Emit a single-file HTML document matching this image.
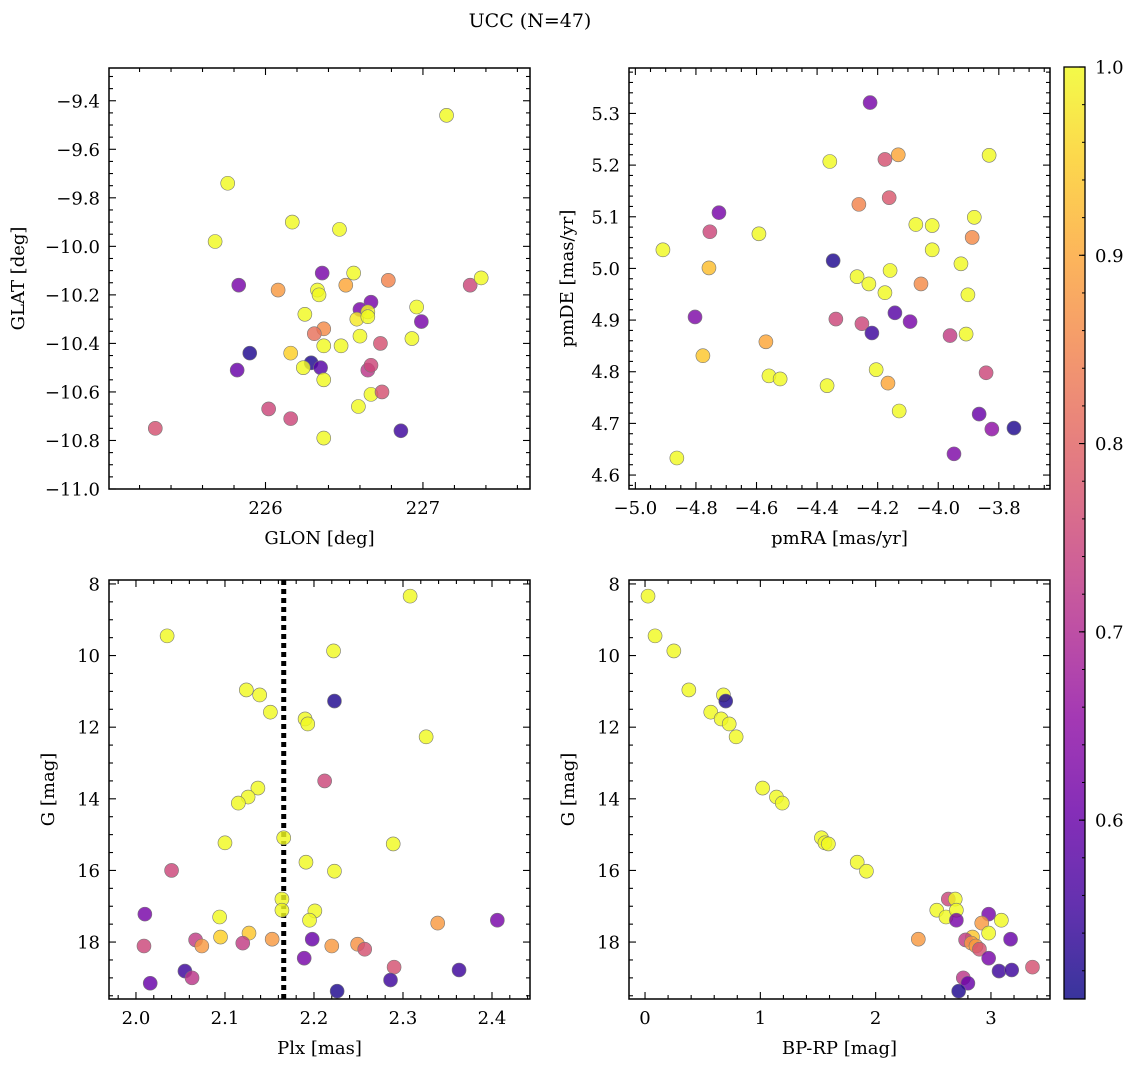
<!DOCTYPE html>
<html><head><meta charset="utf-8">
<style>
body{margin:0;background:#fff;}
svg text{font-family:"DejaVu Serif","Liberation Serif",serif;fill:#000;}
</style></head>
<body>
<svg id="fig" width="1136" height="1067" xmlns="http://www.w3.org/2000/svg">
<text x="530" y="27" font-size="19" text-anchor="middle">UCC (N=47)</text>
</svg>
<script>
// ---- Panel 1: GLON vs GLAT ----
const glon=[227.15,225.76,225.68,226.17,226.47,225.83,226.08,226.36,226.56,226.51,226.33,226.34,226.78,227.30,227.37,226.67,226.60,226.96,226.58,226.65,226.65,226.25,226.99,226.37,226.31,226.60,226.37,226.48,226.93,225.90,226.16,226.73,226.29,226.24,226.35,226.65,226.67,225.82,226.37,226.67,226.74,226.59,226.02,226.16,225.30,226.37,226.86];
const glat=[-9.46,-9.74,-9.98,-9.90,-9.93,-10.16,-10.18,-10.11,-10.11,-10.16,-10.18,-10.20,-10.14,-10.16,-10.13,-10.23,-10.26,-10.25,-10.30,-10.27,-10.29,-10.28,-10.31,-10.34,-10.36,-10.37,-10.41,-10.41,-10.38,-10.44,-10.44,-10.40,-10.48,-10.50,-10.50,-10.51,-10.49,-10.51,-10.55,-10.61,-10.60,-10.66,-10.67,-10.71,-10.75,-10.79,-10.76];
const prob1=[1,1,1,1,1,0.62,0.88,0.62,1,0.9,1,1,0.85,0.75,1,0.62,0.62,1,0.98,1,1,1,0.62,0.86,0.82,1,1,1,1,0.52,0.95,0.77,0.52,1,0.58,0.72,0.75,0.6,1,1,0.77,1,0.75,0.75,0.77,1,0.55];
// ---- Panel 2: pmRA vs pmDE ----
const pmra=[-4.225,-4.358,-4.176,-4.132,-3.832,-4.162,-4.262,-4.724,-3.881,-4.074,-4.020,-4.754,-4.592,-3.888,-4.909,-4.020,-3.925,-4.347,-4.757,-4.268,-4.159,-4.229,-4.057,-4.176,-3.902,-4.803,-4.338,-4.143,-4.093,-4.252,-4.219,-3.961,-3.908,-4.777,-4.569,-4.559,-4.522,-4.205,-4.367,-4.166,-3.842,-4.129,-3.865,-4.863,-3.823,-3.750,-3.948];
const pmde=[5.321,5.207,5.211,5.220,5.219,5.137,5.124,5.108,5.099,5.085,5.083,5.071,5.067,5.060,5.036,5.036,5.009,5.015,5.001,4.984,4.996,4.970,4.970,4.953,4.949,4.906,4.902,4.914,4.897,4.893,4.875,4.870,4.873,4.831,4.858,4.792,4.786,4.804,4.773,4.778,4.798,4.724,4.718,4.633,4.689,4.691,4.641];
const prob2=[0.62,1,0.77,0.9,1,0.78,0.85,0.62,1,1,1,0.75,1,0.86,1,1,1,0.52,0.93,1,1,1,0.86,1,1,0.63,0.75,0.58,0.62,0.75,0.55,0.73,1,0.94,0.9,1,1,1,1,0.9,0.75,1,0.6,1,0.65,0.52,0.63];
// ---- Panel 3: Plx vs G ----
const plx=[2.308,2.035,2.222,2.124,2.139,2.223,2.151,2.190,2.193,2.326,2.212,2.137,2.126,2.115,2.100,2.166,2.289,2.191,2.223,2.040,2.164,2.010,2.164,2.201,2.094,2.195,2.339,2.406,2.127,2.095,2.153,2.067,2.198,2.120,2.074,2.009,2.249,2.220,2.257,2.290,2.189,2.055,2.063,2.016,2.363,2.286,2.226];
const gmag3=[8.34,9.45,9.87,10.96,11.10,11.27,11.58,11.77,11.91,12.27,13.50,13.70,13.95,14.12,15.23,15.09,15.26,15.77,16.02,16.0,16.80,17.22,17.11,17.13,17.30,17.39,17.47,17.39,17.75,17.86,17.92,17.94,17.92,18.03,18.11,18.11,18.06,18.11,18.20,18.70,18.45,18.81,19.0,19.15,18.78,19.06,19.37];
const prob3=[1,1,1,1,1,0.52,1,1,1,1,0.75,1,1,1,1,1,1,1,1,0.75,1,0.62,1,1,1,1,0.88,0.62,0.94,0.95,0.88,0.73,0.6,0.73,0.88,0.75,0.87,0.88,0.77,0.77,0.62,0.55,0.72,0.6,0.55,0.55,0.52];
const plxLine=[2.166];
// ---- Panel 4: BP-RP vs G ----
const bprp=[0.026,0.087,0.25,0.38,0.68,0.70,0.57,0.66,0.73,0.79,1.02,1.14,1.19,1.53,1.56,1.59,1.84,1.92,2.53,2.37,2.61,2.63,2.69,2.70,2.70,2.98,3.09,2.92,2.98,2.84,2.78,3.17,2.83,2.87,2.90,2.98,3.36,3.07,3.18,2.76,2.80,2.72];
const gmag4=[8.34,9.45,9.87,10.96,11.10,11.27,11.58,11.77,11.91,12.27,13.70,13.95,14.12,15.09,15.23,15.26,15.77,16.02,17.11,17.92,17.30,16.80,16.80,17.11,17.39,17.22,17.39,17.47,17.75,17.86,17.94,17.92,18.03,18.11,18.20,18.45,18.70,18.81,18.78,19.0,19.15,19.37];
const prob4=[1,1,1,1,1,0.52,1,1,1,1,1,1,1,1,1,1,1,1,1,0.88,1,0.75,1,1,0.62,0.62,1,0.88,1,0.94,0.73,0.6,0.88,0.88,0.77,0.62,0.77,0.55,0.55,0.72,0.6,0.52];
// colorbar ticks
const cbTicks=[0.6,0.7,0.8,0.9,1.0];

const NS="http://www.w3.org/2000/svg";
const svg=document.getElementById('fig');
function mk(tag,attrs,parent){const e=document.createElementNS(NS,tag);for(const k in attrs)e.setAttribute(k,attrs[k]);(parent||svg).appendChild(e);return e;}
const stops=['#0d0887','#41049d','#6a00a8','#8f0da4','#b12a90','#cc4778','#e16462','#f2844b','#fca636','#fcce25','#f0f921'];
function hx(h){return [parseInt(h.substr(1,2),16),parseInt(h.substr(3,2),16),parseInt(h.substr(5,2),16)];}
function plasma(t){t=Math.max(0,Math.min(1,t));const f=t*10,i=Math.min(9,Math.floor(f)),r=f-i;const a=hx(stops[i]),b=hx(stops[i+1]);return 'rgb('+a.map((v,k)=>Math.round(v+(b[k]-v)*r)).join(',')+')';}
const VMIN=0.505,VMAX=1.0;
function col(p){return plasma((p-VMIN)/(VMAX-VMIN));}
function fmt(v,d){let s=v.toFixed(d);return s.replace('-','\u2212');}
const FS=18;

function panel(o){
  const g=mk('g',{});
  
  
  const X=v=>o.x0+(v-o.xmin)/(o.xmax-o.xmin)*(o.x1-o.x0);
  const Y=o.yinv?(v=>o.y0+(v-o.ymin)/(o.ymax-o.ymin)*(o.y1-o.y0)):(v=>o.y1-(v-o.ymin)/(o.ymax-o.ymin)*(o.y1-o.y0));
  const eps=1e-9;
  for(let v=Math.ceil((o.xmin)/o.xminor-eps)*o.xminor;v<=o.xmax+eps;v+=o.xminor){
    const px=X(v);const isMaj=Math.abs(v/o.xmajor-Math.round(v/o.xmajor))<1e-6;const L=isMaj?7:4;
    mk('line',{x1:px,x2:px,y1:o.y1,y2:o.y1-L,stroke:'#000','stroke-width':1.1},g);
    mk('line',{x1:px,x2:px,y1:o.y0,y2:o.y0+L,stroke:'#000','stroke-width':1.1},g);
    if(isMaj){const t=mk('text',{x:px,y:o.y1+25,'font-size':FS,'text-anchor':'middle'},g);t.textContent=fmt(v,o.xdec);}
  }
  for(let v=Math.ceil(o.ymin/o.yminor-eps)*o.yminor;v<=o.ymax+eps;v+=o.yminor){
    const py=Y(v);const isMaj=Math.abs(v/o.ymajor-Math.round(v/o.ymajor))<1e-6;const L=isMaj?7:4;
    mk('line',{x1:o.x0,x2:o.x0+L,y1:py,y2:py,stroke:'#000','stroke-width':1.1},g);
    mk('line',{x1:o.x1,x2:o.x1-L,y1:py,y2:py,stroke:'#000','stroke-width':1.1},g);
    if(isMaj){const t=mk('text',{x:o.x0-9,y:py+6.5,'font-size':FS,'text-anchor':'end'},g);t.textContent=fmt(v,o.ydec);}
  }
  if(o.vline){o.vline.forEach(v=>{const l=mk('line',{x1:X(v),x2:X(v),y1:o.y0,y2:o.y1,stroke:'#000','stroke-width':5,'stroke-dasharray':'5,4'},g);
    
    });}
  o.xs.forEach((xv,i)=>{
    const c=mk('circle',{cx:X(xv),cy:Y(o.ys[i]),r:7,fill:col(o.ps[i]),'fill-opacity':0.82,stroke:'#777','stroke-width':0.6},g);
    
    
  });
  const fr=mk('rect',{x:o.x0,y:o.y0,width:o.x1-o.x0,height:o.y1-o.y0,fill:'none',stroke:'#000','stroke-width':1.5},g);
  
  
  const xl=mk('text',{x:(o.x0+o.x1)/2,y:o.y1+55,'font-size':FS,'text-anchor':'middle'},g);xl.textContent=o.xlabel;
  
  
  const yx=o.x0-o.ylabOff,yy=(o.y0+o.y1)/2;
  const yl=mk('text',{x:yx,y:yy,'font-size':FS,'text-anchor':'middle',transform:`rotate(-90 ${yx} ${yy})`},g);yl.textContent=o.ylabel;
  
  
}
panel({name:'glon-glat-panel',x0:109,x1:530,y0:68,y1:489,xmin:225.006,xmax:227.68,ymin:-11.0,ymax:-9.265,xmajor:1,xminor:0.2,ymajor:0.2,yminor:0.05,xdec:0,ydec:1,xs:glon,ys:glat,ps:prob1,xlabel:'GLON [deg]',ylabel:'GLAT [deg]',ylabOff:85});
panel({name:'pm-panel',x0:629,x1:1050,y0:68,y1:489,xmin:-5.021,xmax:-3.631,ymin:4.573,ymax:5.388,xmajor:0.2,xminor:0.05,ymajor:0.1,yminor:0.02,xdec:1,ydec:1,xs:pmra,ys:pmde,ps:prob2,xlabel:'pmRA [mas/yr]',ylabel:'pmDE [mas/yr]',ylabOff:56});
panel({name:'plx-g-panel',x0:109,x1:530,y0:580,y1:999,xmin:1.9697,xmax:2.4427,ymin:7.89,ymax:19.59,yinv:true,xmajor:0.1,xminor:0.02,ymajor:2,yminor:0.5,xdec:1,ydec:0,xs:plx,ys:gmag3,ps:prob3,xlabel:'Plx [mas]',ylabel:'G [mag]',ylabOff:55,vline:plxLine});
panel({name:'cmd-panel',x0:629,x1:1050,y0:580,y1:999,xmin:-0.139,xmax:3.512,ymin:7.89,ymax:19.59,yinv:true,xmajor:1,xminor:0.2,ymajor:2,yminor:0.5,xdec:0,ydec:0,xs:bprp,ys:gmag4,ps:prob4,xlabel:'BP-RP [mag]',ylabel:'G [mag]',ylabOff:55});

// colorbar
const cb=mk('g',{});


const defs=mk('defs',{},cb);
const lg=mk('linearGradient',{id:'cbg',x1:0,y1:1,x2:0,y2:0},defs);
for(let i=0;i<=20;i++){mk('stop',{offset:i/20,'stop-color':plasma(i/20),'stop-opacity':0.82},lg);}
const CB={x:1064,w:21,y0:67,y1:999};
mk('rect',{x:CB.x,y:CB.y0,width:CB.w,height:CB.y1-CB.y0,fill:'url(#cbg)'},cb);
mk('rect',{x:CB.x,y:CB.y0,width:CB.w,height:CB.y1-CB.y0,fill:'none',stroke:'#000','stroke-width':1.3},cb);
const CY=v=>CB.y1-(v-VMIN)/(VMAX-VMIN)*(CB.y1-CB.y0);
for(let v=0.52;v<=1.0001;v+=0.02){const py=CY(v);mk('line',{x1:CB.x+CB.w,x2:CB.x+CB.w-3,y1:py,y2:py,stroke:'#000','stroke-width':1},cb);}
cbTicks.forEach(v=>{const py=CY(v);mk('line',{x1:CB.x+CB.w,x2:CB.x+CB.w-6,y1:py,y2:py,stroke:'#000','stroke-width':1.1},cb);
  const t=mk('text',{x:CB.x+CB.w+10,y:py+6.5,'font-size':FS},cb);t.textContent=v.toFixed(1);
  
  });
</script>
</body></html>
